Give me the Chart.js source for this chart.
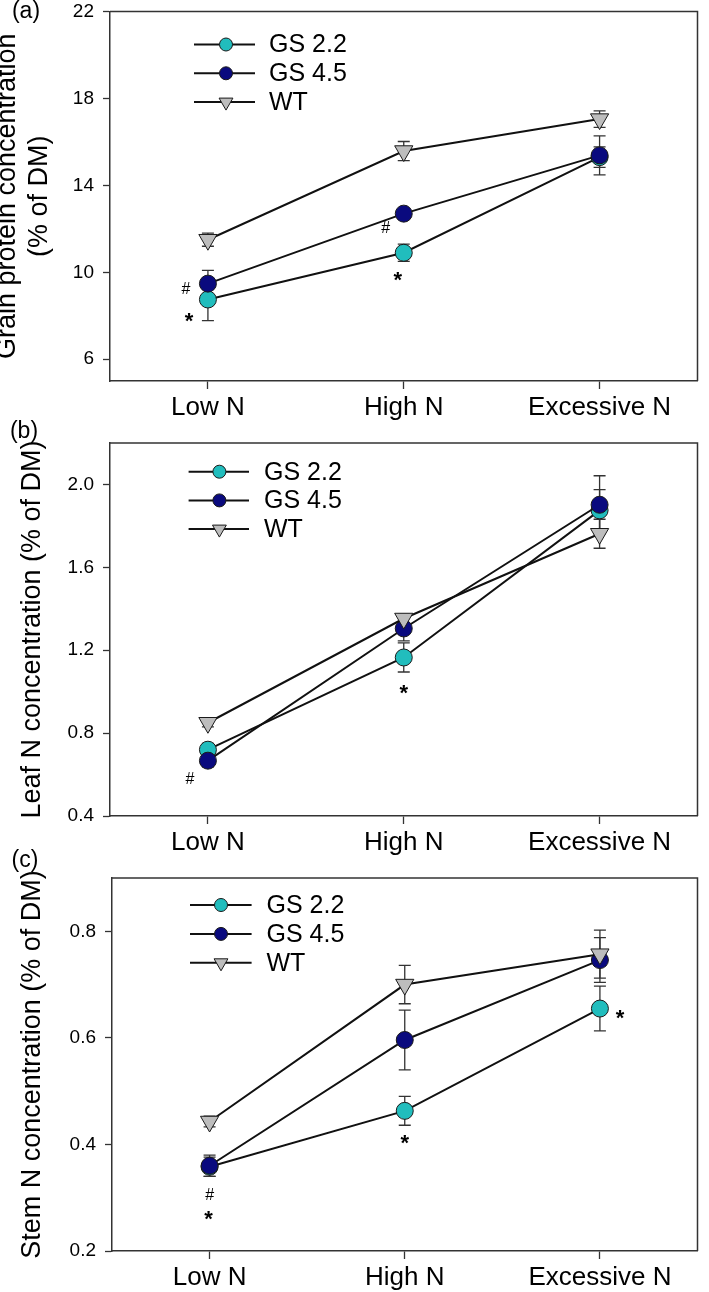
<!DOCTYPE html>
<html lang="en">
<head>
<meta charset="UTF-8">
<title>N concentration</title>
<style>
  body { margin: 0; background: #fff; }
  #wrap { position: relative; width: 709px; height: 1292px; }
  canvas { position: absolute; left: 0; }
</style>
</head>
<body>
<div id="wrap">
  <canvas id="chartA" width="709" height="432" style="top:0px"></canvas>
  <canvas id="chartB" width="709" height="445" style="top:420px"></canvas>
  <canvas id="chartC" width="709" height="452" style="top:840px"></canvas>
</div>

<script src="https://cdn.jsdelivr.net/npm/chart.js"></script>
<script>
// categories and series
const categories = ["Low N", "High N", "Excessive N"];
const seriesNames = ["GS 2.2", "GS 4.5", "WT"];

// (a) grain protein concentration, mean and error
const grainGS22 = [8.75, 10.9, 15.3];
const grainGS45 = [9.48, 12.7, 15.38];
const grainWT = [11.5, 15.58, 17.05];
const grainGS22Err = [0.97, 0.4, 0.47];
const grainGS45Err = [0.61, 0.15, 0.9];
const grainWTErr = [0.3, 0.44, 0.38];
const grainTicks = [6, 10, 14, 18, 22];

// (b) leaf N concentration
const leafGS22 = [0.72, 1.165, 1.875];
const leafGS45 = [0.667, 1.305, 1.902];
const leafWT = [0.85, 1.353, 1.762];
const leafGS22Err = [0.03, 0.07, 0.1];
const leafGS45Err = [0.03, 0.06, 0.14];
const leafWTErr = [0.02, 0.02, 0.07];
const leafTicks = [0.4, 0.8, 1.2, 1.6, 2.0];

// (c) stem N concentration
const stemGS22 = [0.358, 0.463, 0.655];
const stemGS45 = [0.36, 0.596, 0.746];
const stemWT = [0.443, 0.70, 0.757];
const stemGS22Err = [0.018, 0.027, 0.042];
const stemGS45Err = [0.02, 0.056, 0.042];
const stemWTErr = [0.01, 0.036, 0.045];
const stemTicks = [0.2, 0.4, 0.6, 0.8];

// significance marks: category, series index, symbol
const grainMarks = [[0, 1, "#"], [0, 0, "*"], [1, 1, "#"], [1, 0, "*"]];
const leafMarks = [[0, 1, "#"], [1, 0, "*"]];
const stemMarks = [[0, 1, "#"], [0, 1, "*"], [1, 0, "*"], [2, 0, "*"]];

// look
const FONT = '"Liberation Sans", Arial, sans-serif';
const AXIS = "#333";
const markFill = ["#21BDBD", "#0A0A7E", "#BDBDBD"];
const markStyle = ["circle", "circle", "triangle"];
const markRot = [0, 0, 180];
const markRadius = [8.5, 8.5, 10.5];

// error bars, frame, legend, marks, panel letter
const extras = {
    id: "extras",
    beforeDatasetsDraw(chart, args, o) {
        const c = chart.ctx, xs = chart.scales.x, ys = chart.scales.y;
        c.save();
        c.strokeStyle = AXIS;
        c.lineWidth = 1.3;
        chart.data.datasets.forEach((ds, i) => {
            ds.data.forEach((v, j) => {
                const x = xs.getPixelForValue(j);
                const y1 = ys.getPixelForValue(v + o.errors[i][j]);
                const y2 = ys.getPixelForValue(v - o.errors[i][j]);
                c.beginPath();
                c.moveTo(x, y1); c.lineTo(x, y2);
                c.moveTo(x - 6, y1); c.lineTo(x + 6, y1);
                c.moveTo(x - 6, y2); c.lineTo(x + 6, y2);
                c.stroke();
            });
        });
        c.restore();
    },
    afterDraw(chart, args, o) {
        const c = chart.ctx, a = chart.chartArea;
        const xs = chart.scales.x, ys = chart.scales.y;
        c.save();
        // top and right of the frame
        c.strokeStyle = AXIS;
        c.lineWidth = 1.5;
        c.beginPath();
        c.moveTo(a.left, a.top); c.lineTo(a.right, a.top); c.lineTo(a.right, a.bottom);
        c.stroke();

        // legend
        const lg = o.legend;
        seriesNames.forEach((name, i) => {
            const y = a.top + lg.dy + i * lg.gap;
            c.strokeStyle = "#111";
            c.lineWidth = 2;
            c.beginPath();
            c.moveTo(a.left + lg.x0, y); c.lineTo(a.left + lg.x1, y);
            c.stroke();
            c.fillStyle = markFill[i];
            c.strokeStyle = "#1a1a1a";
            c.lineWidth = 1;
            Chart.helpers.drawPoint(c, {
                pointStyle: markStyle[i], rotation: markRot[i],
                radius: i == 2 ? 8 : 6.5, borderWidth: 1
            }, a.left + lg.mx, y);
            c.fillStyle = "#000";
            c.font = "25px " + FONT;
            c.textAlign = "left";
            c.textBaseline = "middle";
            c.fillText(name, a.left + lg.tx, y + 1);
        });

        // significance marks
        c.fillStyle = "#000";
        c.textAlign = "center";
        c.textBaseline = "alphabetic";
        o.marks.forEach((m, k) => {
            const [cat, s, sym] = m;
            const off = o.markOffsets[k];
            const v = chart.data.datasets[s].data[cat];
            const x = xs.getPixelForValue(cat) + off[0];
            const y = ys.getPixelForValue(v) + off[1];
            if (sym == "*") {
                c.font = "bold 22px " + FONT;
                c.fillText(sym, x, y + 22 * 0.57);
            } else {
                c.font = "16px " + FONT;
                c.fillText(sym, x, y + 16 * 0.36);
            }
        });

        // panel letter
        c.font = "23px " + FONT;
        c.textAlign = "center";
        c.textBaseline = "middle";
        c.fillText(o.letter[0], o.letter[1], o.letter[2]);
        c.restore();
    }
};

function makePanel(id, p) {
    const ctx = document.getElementById(id);
    const datasets = seriesNames.map((name, i) => ({
        label: name,
        data: p.values[i],
        borderColor: "#111",
        borderWidth: 2,
        fill: false,
        tension: 0,
        pointStyle: markStyle[i],
        pointRotation: markRot[i],
        pointRadius: markRadius[i],
        pointBackgroundColor: markFill[i],
        pointBorderColor: "#1a1a1a",
        pointBorderWidth: 1,
        order: 3 - i
    }));

    return new Chart(ctx, {
        type: "line",
        data: { labels: categories, datasets: datasets },
        options: {
            responsive: false,
            animation: false,
            events: [],
            layout: { padding: { top: p.top, right: 1, left: 0, bottom: 0 } },
            scales: {
                x: {
                    type: "category",
                    offset: true,
                    grid: { display: true, drawOnChartArea: false, drawTicks: true, tickLength: 8, tickColor: AXIS, tickWidth: 1.3, offset: false },
                    border: { display: true, color: AXIS, width: 1.5 },
                    ticks: { color: "#000", font: { size: 26, family: FONT }, padding: 3, maxRotation: 0, autoSkip: false },
                    afterFit: s => { s.height = p.xAxisH; }
                },
                y: {
                    min: p.min,
                    max: p.max,
                    afterBuildTicks: s => { s.ticks = p.ticks.map(v => ({ value: v })); },
                    grid: { display: true, drawOnChartArea: false, drawTicks: true, tickLength: 7, tickColor: AXIS, tickWidth: 1.3 },
                    border: { display: true, color: AXIS, width: 1.5 },
                    ticks: {
                        color: "#000", padding: 9,
                        font: { size: 19, family: FONT, lineHeight: 1 },
                        callback: v => v.toFixed(p.dec)
                    },
                    title: {
                        display: true, text: p.title, color: "#000",
                        font: { size: 27, family: FONT },
                        padding: { top: p.titlePad, bottom: 0 }
                    },
                    // fixed axis width, and no extra room for the top label
                    afterFit: s => {
                        s.width = p.yAxisW;
                        s.paddingTop = 0;
                        s.paddingBottom = 0;
                    }
                }
            },
            plugins: {
                legend: { display: false },
                tooltip: { enabled: false },
                extras: {
                    errors: p.errors,
                    marks: p.marks,
                    markOffsets: p.markOffsets,
                    legend: p.legend,
                    letter: p.letter
                }
            }
        },
        plugins: [extras]
    });
}

makePanel("chartA", {
    values: [grainGS22, grainGS45, grainWT],
    errors: [grainGS22Err, grainGS45Err, grainWTErr],
    min: 5, max: 22, ticks: grainTicks, dec: 0,
    title: ["Grain protein concentration", "(% of DM)"], titlePad: -9,
    top: 8, xAxisH: 51, yAxisW: 110,
    marks: grainMarks,
    markOffsets: [[-22, 5], [-19, 16], [-18, 14], [-6, 22]],
    legend: { dy: 33, gap: 28.8, x0: 84, x1: 145, mx: 116, tx: 159 },
    letter: ["(a)", 26, 12]
});

makePanel("chartB", {
    values: [leafGS22, leafGS45, leafWT],
    errors: [leafGS22Err, leafGS45Err, leafWTErr],
    min: 0.4, max: 2.2, ticks: leafTicks, dec: 1,
    title: "Leaf N concentration (% of DM)", titlePad: 16,
    top: 23, xAxisH: 49, yAxisW: 110,
    marks: leafMarks,
    markOffsets: [[-18, 18], [0, 30]],
    legend: { dy: 28.7, gap: 28.7, x0: 78.6, x1: 139, mx: 109.4, tx: 154 },
    letter: ["(b)", 24, 12]
});

makePanel("chartC", {
    values: [stemGS22, stemGS45, stemWT],
    errors: [stemGS22Err, stemGS45Err, stemWTErr],
    min: 0.2, max: 0.9, ticks: stemTicks, dec: 1,
    title: "Stem N concentration (% of DM)", titlePad: 16,
    top: 38, xAxisH: 41, yAxisW: 112,
    marks: stemMarks,
    markOffsets: [[0, 28], [-1, 48], [0, 27], [20, 4]],
    legend: { dy: 27, gap: 28.9, x0: 78, x1: 139.6, mx: 109, tx: 154.5 },
    letter: ["(c)", 25, 21]
});
</script>
</body>
</html>
